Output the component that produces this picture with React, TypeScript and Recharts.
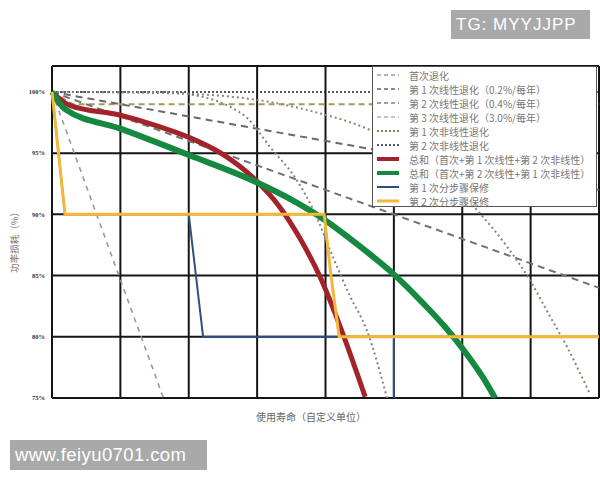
import { LineChart, Line, XAxis, YAxis, CartesianGrid, ReferenceLine } from 'recharts';

type Pt = [number, number];

// x = 使用寿命 (custom units, one grid column each), y = 功率 (%)
const X_TICKS = [0, 1, 2, 3, 4, 5, 6, 7, 8];
const Y_TICKS = [75, 80, 85, 90, 95, 100];
const Y_TOP = 102.12; // plot frame sits a little above the 100% line

const INITIAL: Pt[] = [[0, 100], [0.3, 99.0], [8, 99.0]];
const LINEAR_1: Pt[] = [[0, 100], [8, 92.0]];
const LINEAR_2: Pt[] = [[0, 100], [8, 84.0]];
const LINEAR_3: Pt[] = [[0, 100], [1.63, 75]];
const NONLINEAR_1: Pt[] = [
  [0, 100], [1.7, 99.9], [3.0, 99.35], [3.82, 98.4], [4.65, 96.9], [5.4, 94.6],
  [6.21, 90.4], [6.65, 87.4], [6.96, 84.9], [7.28, 81.7], [7.53, 79.2], [7.87, 75.3],
];
const NONLINEAR_2: Pt[] = [
  [0, 100], [1.6, 100], [2.2, 99.6], [2.6, 98.8], [2.85, 97.9], [3.19, 95.5],
  [3.58, 92.8], [3.82, 90.4], [4.11, 86.5], [4.36, 83.3], [4.6, 80.6], [4.9, 75],
];
const SUM_RED: Pt[] = [
  [0, 100], [0.26, 98.9], [1.0, 98.1], [1.5, 97.3], [2.0, 96.3], [2.5, 94.9],
  [2.94, 93.0], [3.33, 90.6], [3.63, 88.0], [3.92, 84.9], [4.25, 80.3], [4.58, 75.1],
];
const SUM_GREEN: Pt[] = [
  [0, 100], [0.19, 98.6], [1.0, 97.0], [2.0, 94.85], [3.0, 92.6], [3.5, 91.2],
  [4.0, 89.5], [4.5, 87.4], [5.0, 85.1], [5.4, 82.9], [5.75, 80.8], [6.05, 78.7],
  [6.3, 76.7], [6.48, 75.0],
];
const STEP_1: Pt[] = [[0, 100], [0.19, 90], [2.0, 90], [2.21, 80], [5.0, 80], [5.0, 75]];
const STEP_2: Pt[] = [[0, 100], [0.19, 90], [3.98, 90], [4.08, 85], [4.2, 80], [8, 80]];

const toRows = (pts: Pt[]) => pts.map(([x, y]) => ({ x, y }));

const SERIES = [
  { name: '首次退化', pts: INITIAL, color: '#a39a58', legend: '#b4b4b4', width: 2, dash: '6 4', curve: 'linear' },
  { name: '第 1 次线性退化（0.2%/每年）', pts: LINEAR_1, color: '#666a70', legend: '#8a8a8a', width: 2, dash: '7 5', curve: 'linear' },
  { name: '第 2 次线性退化（0.4%/每年）', pts: LINEAR_2, color: '#6f7378', legend: '#a0a0a0', width: 2, dash: '7 5', curve: 'linear' },
  { name: '第 3 次线性退化（3.0%/每年）', pts: LINEAR_3, color: '#9a9a9a', legend: '#b0b0b0', width: 1.6, dash: '5 5', curve: 'linear' },
  { name: '第 1 次非线性退化', pts: NONLINEAR_1, color: '#8a8670', legend: '#8c7a3c', width: 2, dash: '2 3', curve: 'monotone' },
  { name: '第 2 次非线性退化', pts: NONLINEAR_2, color: '#7d828a', legend: '#4e5c6c', width: 2, dash: '2 3', curve: 'monotone' },
  { name: '第 1 次分步骤保修', pts: STEP_1, color: '#2f4f7f', legend: '#2f4f7f', width: 2, dash: undefined, curve: 'linear' },
  { name: '总和（首次+第 1 次线性+第 2 次非线性）', pts: SUM_RED, color: '#a3232a', legend: '#a3232a', width: 5, dash: undefined, curve: 'monotone' },
  { name: '总和（首次+第 2 次线性+第 1 次非线性）', pts: SUM_GREEN, color: '#15893f', legend: '#15893f', width: 6, dash: undefined, curve: 'monotone' },
  { name: '第 2 次分步骤保修', pts: STEP_2, color: '#f4b73a', legend: '#f4b73a', width: 3, dash: undefined, curve: 'linear' },
];

const LEGEND_ORDER = [
  '首次退化',
  '第 1 次线性退化（0.2%/每年）',
  '第 2 次线性退化（0.4%/每年）',
  '第 3 次线性退化（3.0%/每年）',
  '第 1 次非线性退化',
  '第 2 次非线性退化',
  '总和（首次+第 1 次线性+第 2 次非线性）',
  '总和（首次+第 2 次线性+第 1 次非线性）',
  '第 1 次分步骤保修',
  '第 2 次分步骤保修',
];

const CJK = '"Noto Sans CJK SC", "Noto Sans", sans-serif';

export default function App() {
  return (
    <div style={{ position: 'absolute', left: 0, top: 0, width: 600, height: 480, background: '#fff', overflow: 'hidden' }}>
      <LineChart width={600} height={480} margin={{ top: 66, right: 1, bottom: 82, left: 0 }}>
        <CartesianGrid
          stroke="#151515"
          strokeWidth={2}
          horizontalValues={[75, 80, 85, 90, 95, Y_TOP]}
          verticalValues={X_TICKS}
        />
        <XAxis dataKey="x" type="number" domain={[0, 8]} ticks={X_TICKS} hide />
        <YAxis
          type="number"
          domain={[75, Y_TOP]}
          ticks={Y_TICKS}
          allowDataOverflow
          width={52}
          axisLine={false}
          tickLine={false}
          tickSize={0}
          tickMargin={7}
          tickFormatter={(v: number) => `${v}%`}
          tick={{ fontSize: 6.5, fill: '#333', fontFamily: 'Liberation Serif', fontWeight: 'bold' }}
        />
        <ReferenceLine y={100} stroke="#222" strokeWidth={1.5} strokeDasharray="2 2" />
        {SERIES.map((s) => (
          <Line
            key={s.name}
            data={toRows(s.pts)}
            dataKey="y"
            name={s.name}
            type={s.curve as 'linear' | 'monotone'}
            stroke={s.color}
            strokeWidth={s.width}
            strokeDasharray={s.dash}
            dot={false}
            activeDot={false}
            isAnimationActive={false}
          />
        ))}
      </LineChart>

      {/* legend box over the top-right of the plot */}
      <div
        style={{
          position: 'absolute', left: 372, top: 66, width: 225, height: 141,
          background: '#fff', border: '1px solid #555', boxSizing: 'border-box',
          paddingTop: 1, fontFamily: CJK, fontSize: 10, color: '#777',
        }}
      >
        {LEGEND_ORDER.map((name) => {
          const s = SERIES.find((d) => d.name === name)!;
          return (
            <div key={name} style={{ display: 'flex', alignItems: 'center', height: 14, whiteSpace: 'nowrap' }}>
              <svg width={22} height={8} style={{ marginLeft: 4, marginRight: 10, flexShrink: 0 }}>
                <line
                  x1={0} y1={4} x2={22} y2={4}
                  stroke={s.legend}
                  strokeWidth={Math.min(s.width, 4)}
                  strokeDasharray={s.dash ? (s.dash === '2 3' ? '2 2' : '4 3') : undefined}
                />
              </svg>
              <span>{name}</span>
            </div>
          );
        })}
      </div>

      {/* axis titles */}
      <div
        style={{
          position: 'absolute', left: 14, top: 240, transform: 'translate(-50%, -50%) rotate(-90deg)',
          fontFamily: CJK, fontSize: 9.5, color: '#777', whiteSpace: 'nowrap',
        }}
      >
        功率损耗（%）
      </div>
      <div
        style={{
          position: 'absolute', left: 311, top: 416, transform: 'translate(-50%, -50%)',
          fontFamily: CJK, fontSize: 10, color: '#666', whiteSpace: 'nowrap',
        }}
      >
        使用寿命（自定义单位）
      </div>

      {/* watermark tags */}
      <div
        style={{
          position: 'absolute', left: 451, top: 10, width: 139, height: 29, background: '#a9a9a9',
          color: '#fff', fontFamily: '"Liberation Sans", Arial, sans-serif', fontSize: 17,
          letterSpacing: 1, lineHeight: '29px', paddingLeft: 5, boxSizing: 'border-box',
        }}
      >
        TG: MYYJJPP
      </div>
      <div
        style={{
          position: 'absolute', left: 10, top: 440, width: 197, height: 30, background: '#a9a9a9',
          color: '#fff', fontFamily: '"Liberation Sans", Arial, sans-serif', fontSize: 18.5,
          letterSpacing: 0.4, lineHeight: '30px', paddingLeft: 5, boxSizing: 'border-box',
        }}
      >
        www.feiyu0701.com
      </div>
    </div>
  );
}
